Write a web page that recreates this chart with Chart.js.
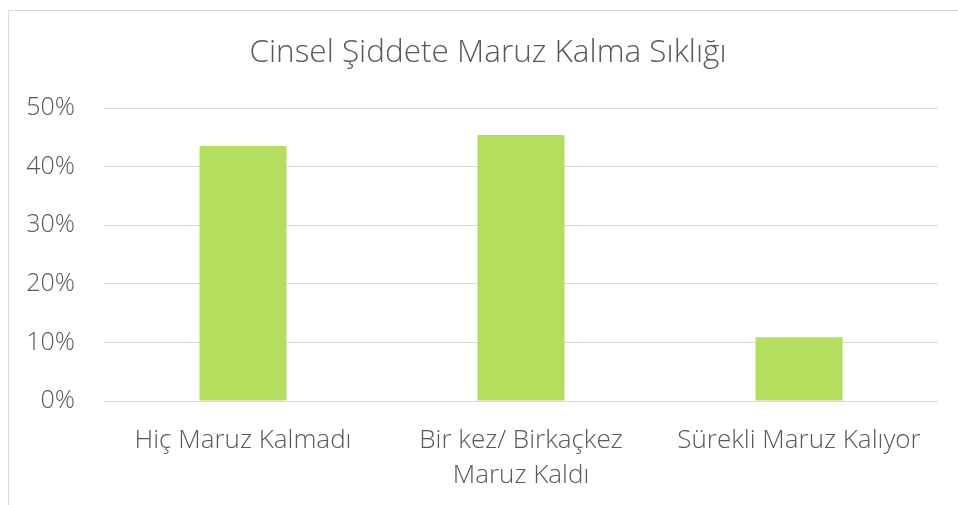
<!DOCTYPE html>
<html>
<head>
<meta charset="utf-8">
<script src="https://cdn.jsdelivr.net/npm/chart.js@4"></script>
<style>
  html,body{margin:0;padding:0;background:#fff;overflow:hidden;}
  #frame{position:absolute;left:8px;top:10px;width:1000px;height:600px;border:1px solid #d9d9d9;}
  #wrap{position:absolute;left:0;top:0;width:958px;height:505px;}
</style>
</head>
<body>
<div id="frame"></div>
<div id="wrap"><canvas id="c" width="958" height="505"></canvas></div>
<script>
// veri
const titleText = 'Cinsel Şiddete Maruz Kalma Sıklığı';
const categories = [['Hiç Maruz Kalmadı'], ['Bir kez/ Birkaçkez', 'Maruz Kaldı'], ['Sürekli Maruz Kalıyor']];
const values = [43.5, 45.4, 10.9];
const yTicks = [0, 10, 20, 30, 40, 50];

const FONT = '"Open Sans", sans-serif';
const INK = '#595959';

// başlık: çerçevenin ortasına
const titlePlugin = {
  id: 'frameTitle',
  afterDraw: function(chart){
    const ctx = chart.ctx;
    ctx.save();
    ctx.font = '300 31.5px ' + FONT;
    ctx.fillStyle = INK;
    ctx.textAlign = 'center';
    ctx.textBaseline = 'middle';
    ctx.fillText(titleText, 488, 53);
    ctx.restore();
  }
};

new Chart(document.getElementById('c').getContext('2d'), {
  type: 'bar',
  data: {
    labels: categories,
    datasets: [{ data: values, backgroundColor: '#b4df5e', categoryPercentage: 1, barPercentage: 0.313 }]
  },
  options: {
    responsive: false, animation: false,
    layout: { padding: { left: 0, right: 20, top: 108, bottom: 0 } },
    plugins: { legend: { display: false }, tooltip: { enabled: false } },
    scales: {
      x: {
        grid: { display: false }, border: { display: false },
        ticks: { color: INK, padding: 14, maxRotation: 0, autoSkip: false,
          font: { family: FONT, size: 26, weight: '300', lineHeight: 1.36 } },
        afterFit: function(s){ s.height = 104; }
      },
      y: {
        min: 0, max: 50,
        afterBuildTicks: function(s){ s.ticks = yTicks.map(function(v){ return { value: v }; }); },
        grid: { color: '#d9d9d9', lineWidth: 1, drawTicks: false }, border: { display: false },
        ticks: { color: INK, padding: 29, callback: function(v){ return v + '%'; },
          font: { family: FONT, size: 25, weight: '300' } },
        afterFit: function(s){ s.width = 104; }
      }
    }
  },
  plugins: [titlePlugin]
});
</script>
</body>
</html>
